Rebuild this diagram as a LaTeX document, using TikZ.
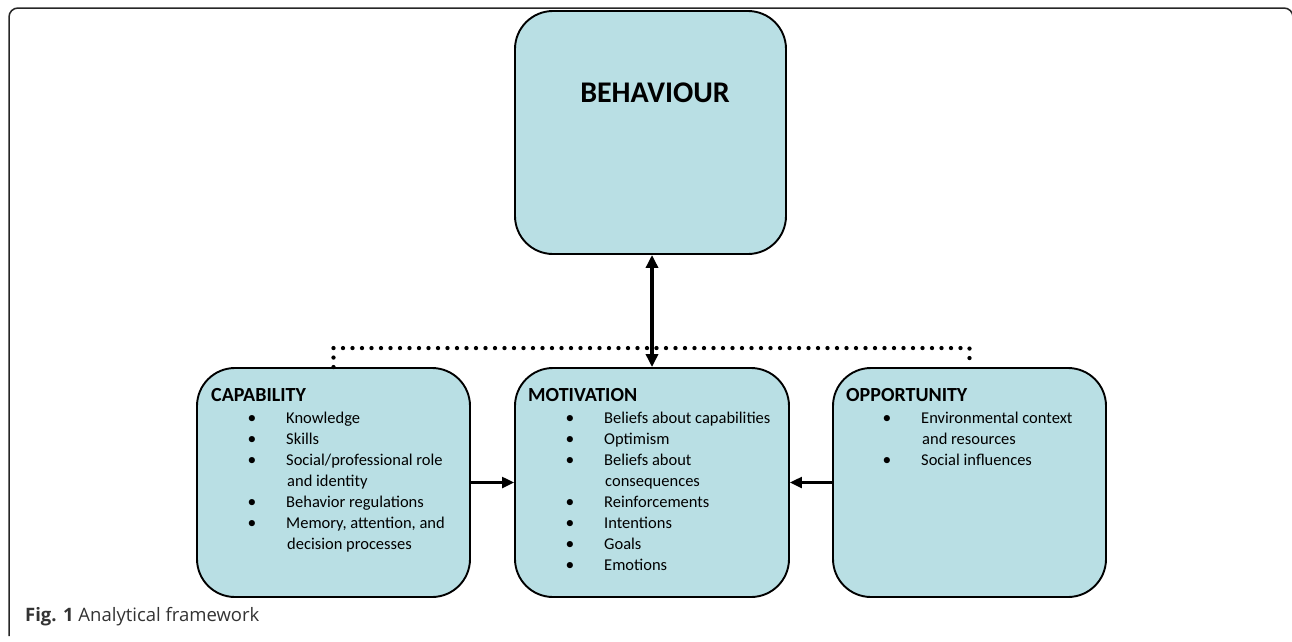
\documentclass[tikz,border=0pt]{standalone}
\usepackage{fontspec}
\setmainfont{Carlito}
\newfontfamily\capfont{Open Sans}
\usetikzlibrary{arrows.meta}
\definecolor{boxfill}{HTML}{B9DFE4}
\newcommand\bl[4]{\node[bul] (#1b) at ({#2+55},{423+21*#3}) {•};
  \node[itm] (#1) at ({#2+89},{423+21*#3}) {#4};}
\newcommand\cl[4]{\node[itm] (#1) at ({#2+90},{423+21*#3}) {#4};}
\begin{document}
\begin{tikzpicture}[x=1pt,y=-1pt,
  box/.style={draw=black,line width=1.9pt,fill=boxfill,rounded corners=38pt,inner sep=0pt},
  title/.style={font=\fontsize{20}{24}\selectfont\bfseries,anchor=base west,inner sep=0pt},
  itm/.style={font=\fontsize{16.5}{20}\selectfont,anchor=base west,inner sep=0pt},
  bul/.style={font=\fontsize{17.5}{20}\selectfont,anchor=base,inner sep=0pt},
  dotline/.style={line width=4.3pt,dash pattern=on 0pt off 9.5pt,line cap=round},
  harrow/.style={line width=2.3pt,-{Triangle[length=12pt,width=11pt]}},
  varrow/.style={line width=4pt,{Triangle[length=13pt,width=12pt]}-{Triangle[length=13pt,width=12pt]}}
]
\useasboundingbox (0,0) rectangle (1292,641);
\begin{scope}
  \clip (0,0) rectangle (1292,641);
  \draw[line width=1.5pt,draw=black!85,rounded corners=9pt] (9,636) -- (9,8) -- (1293,8) -- (1293,40);
\end{scope}

\node[box,minimum width=271pt,minimum height=243pt] (beh) at (650.5,132.5) {};
\node[font=\fontsize{30}{36}\selectfont\bfseries,anchor=base,inner sep=0pt] (behT) at (655,102) {BEHAVIOUR};

\node[box,minimum width=273pt,minimum height=229pt] (cap) at (333.5,482.5) {};
\node[box,minimum width=274pt,minimum height=229pt] (mot) at (652,482.5) {};
\node[box,minimum width=273pt,minimum height=229pt] (opp) at (969.5,482.5) {};

\draw[dotline] (cap.north) -- ++(0,-19) -| (opp.north);
\draw[varrow] (mot.north |- beh.south) -- (mot.north);
\draw[harrow] (cap.east) -- (mot.west);
\draw[harrow] (opp.west) -- (mot.east);

\node[title] (capT) at (211,401) {CAPABILITY};
\bl{c1}{197}{0}{Knowledge}
\bl{c2}{197}{1}{Skills}
\bl{c3}{197}{2}{Social/professional role}
\cl{c4}{197}{3}{and identity}
\bl{c5}{197}{4}{Behavior regulations}
\bl{c6}{197}{5}{Memory, attention, and}
\cl{c7}{197}{6}{decision processes}

\node[title] (motT) at (528,401) {MOTIVATION};
\bl{m1}{515}{0}{Beliefs about capabilities}
\bl{m2}{515}{1}{Optimism}
\bl{m3}{515}{2}{Beliefs about}
\cl{m4}{515}{3}{consequences}
\bl{m5}{515}{4}{Reinforcements}
\bl{m6}{515}{5}{Intentions}
\bl{m7}{515}{6}{Goals}
\bl{m8}{515}{7}{Emotions}

\node[title] (oppT) at (846,401) {OPPORTUNITY};
\bl{o1}{832}{0}{Environmental context}
\cl{o2}{832}{1}{and resources}
\bl{o3}{832}{2}{Social influences}

\node[font=\capfont\fontsize{18.5}{22}\selectfont,text=black!80,anchor=base west,inner sep=0pt] (fig) at (25,621) {\textbf{Fig. 1} Analytical framework};
\end{tikzpicture}
\end{document}
